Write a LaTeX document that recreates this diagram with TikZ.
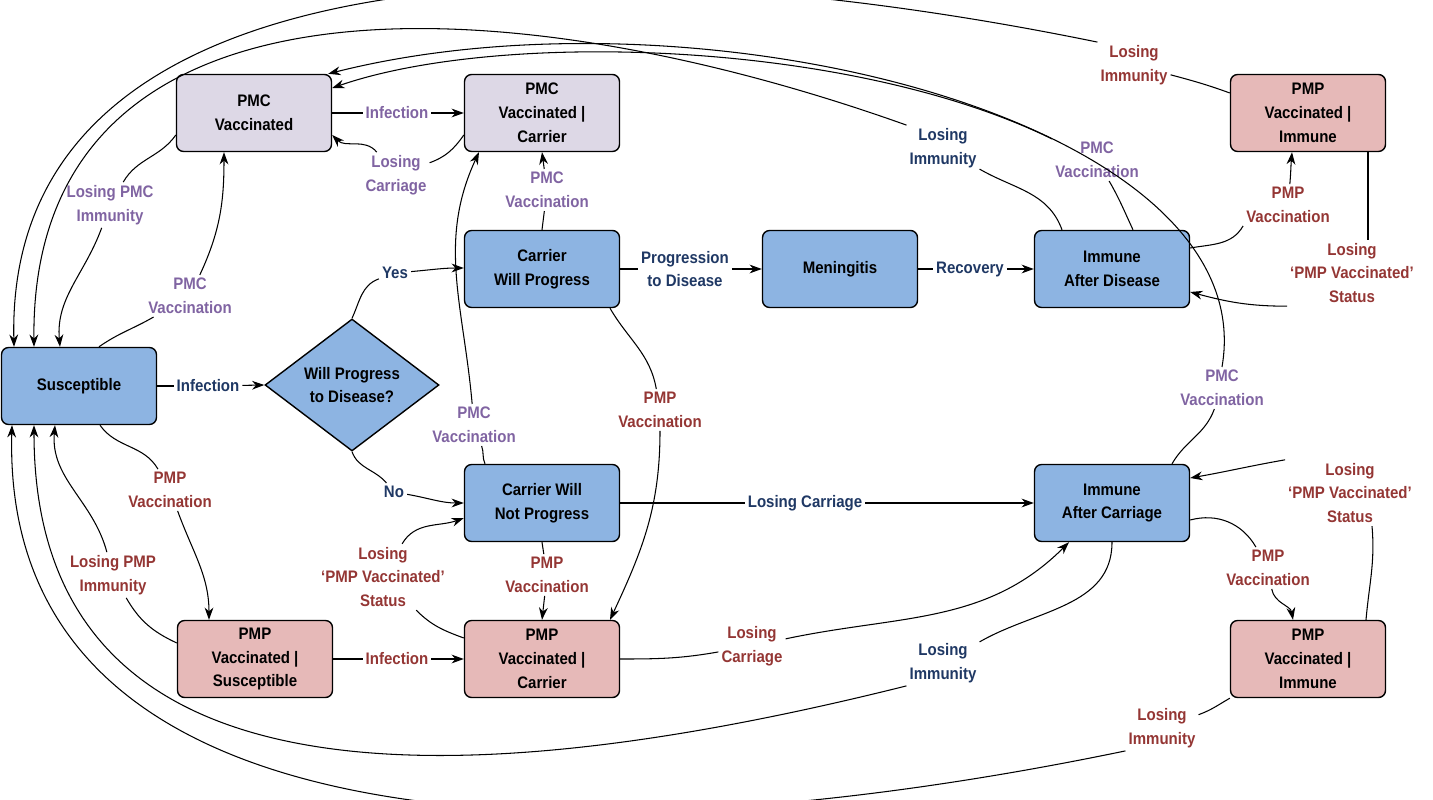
\documentclass[tikz,border=0pt]{standalone}
\usepackage{fontspec}
\setmainfont{Liberation Sans}[FakeStretch=0.9]
\usetikzlibrary{shapes.geometric,arrows.meta}
\newlength\pxl \setlength\pxl{0.02cm}
\definecolor{bfill}{HTML}{8DB4E2}
\definecolor{pfill}{HTML}{DDD8E6}
\definecolor{rfill}{HTML}{E6B9B8}
\definecolor{tblue}{HTML}{1F3864}
\definecolor{tpurp}{HTML}{8064A2}
\definecolor{tred}{HTML}{943634}
\begin{document}
\begin{tikzpicture}[x=0.02cm,y=-0.02cm,
  font=\fontsize{9.5}{13.6}\selectfont\bfseries,
  box/.style={draw=black,line width=0.8pt,rounded corners=4pt,minimum width=3.1cm,minimum height=1.54cm,align=center,inner sep=1pt},
  bb/.style={box,fill=bfill},
  pb/.style={box,fill=pfill},
  rb/.style={box,fill=rfill},
  lb/.style={align=center,inner sep=1.5pt,text=tblue},
  lp/.style={lb,text=tpurp},
  lr/.style={lb,text=tred},
  every path/.style={line width=0.6pt},
  ar/.style={-{Stealth[length=7pt,width=5pt]}}]
\useasboundingbox (0,0) rectangle (1433,800);
% nodes
\node[bb] (sus) at (79,386) {Susceptible};
\node[pb] (pmcv) at (254,113) {PMC\\Vaccinated};
\node[pb] (pmcc) at (542,113) {PMC\\Vaccinated |\\Carrier};
\node[bb] (cwp) at (542,269) {Carrier\\Will Progress};
\node[bb] (men) at (840,269) {Meningitis};
\node[bb] (iad) at (1112,269) {Immune\\After Disease};
\node[rb] (pmpi1) at (1308,113) {PMP\\Vaccinated |\\Immune};
\node[diamond,draw=black,line width=0.8pt,fill=bfill,minimum width=3.48cm,minimum height=2.48cm,inner sep=0pt,align=center] (dia) at (352,385) {Will Progress\\to Disease?};
\node[bb] (cwnp) at (542,503) {Carrier Will\\Not Progress};
\node[bb] (iac) at (1112,503) {Immune\\After Carriage};
\node[rb] (pmps) at (255,659) {PMP\\Vaccinated |\\Susceptible};
\node[rb] (pmpc) at (542,659) {PMP\\Vaccinated |\\Carrier};
\node[rb] (pmpi2) at (1308,659) {PMP\\Vaccinated |\\Immune};
% labels
\node[lp] (l1) at (190,296) {PMC\\Vaccination};
\node[lp] (l2) at (110,205) {Losing PMC\\Immunity};
\node[lp] (l3) at (397,113) {Infection};
\node[lp] (l4) at (396,175) {Losing\\Carriage};
\node[lp] (l5) at (547,190) {PMC\\Vaccination};
\node[lb] (l6) at (208,386) {Infection};
\node[lb] (l7) at (395,273) {Yes};
\node[lb] (l8) at (394,492) {No};
\node[lb] (l9) at (685,269) {Progression\\to Disease};
\node[lb] (l10) at (970,269) {Recovery};
\node[lp] (l11) at (474,425) {PMC\\Vaccination};
\node[lr] (l12) at (660,410) {PMP\\Vaccination};
\node[lr] (l13) at (547,575) {PMP\\Vaccination};
\node[lr] (l14) at (383,577) {Losing\\`PMP Vaccinated'\\Status};
\node[lb] (l15) at (805,503) {Losing Carriage};
\node[lr] (l16) at (397,659) {Infection};
\node[lr] (l17) at (170,490) {PMP\\Vaccination};
\node[lr] (l18) at (113,575) {Losing PMP\\Immunity};
\node[lr] (l19) at (752,646) {Losing\\Carriage};
\node[lb] (l20) at (943,663) {Losing\\Immunity};
\node[lr] (l21) at (1162,728) {Losing\\Immunity};
\node[lr] (l22) at (1134,65) {Losing\\Immunity};
\node[lb] (l23) at (943,148) {Losing\\Immunity};
\node[lp] (l24) at (1097,160) {PMC\\Vaccination};
\node[lp] (l25) at (1222,388) {PMC\\Vaccination};
\node[lr] (l26) at (1352,273) {Losing\\`PMP Vaccinated'\\Status};
\node[lr] (l27) at (1288,205) {PMP\\Vaccination};
\node[lr] (l28) at (1268,568) {PMP\\Vaccination};
\node[lr] (l29) at (1350,493) {Losing\\`PMP Vaccinated'\\Status};
% edges
\draw ([xshift=20\pxl]sus.north) to[out=35,in=210] (l1);
\draw[ar] (l1) to[out=65,in=-90] ([xshift=-30\pxl]pmcv.south);
\draw ([yshift=-22\pxl]pmcv.west) to[out=235,in=60] (l2);
\draw[ar] (l2) to[out=-110,in=95] ([xshift=-19\pxl]sus.north);
\draw (pmcv.east) -- (l3);
\draw[ar] (l3) -- (pmcc.west);
\draw ([yshift=-22\pxl]pmcc.west) to[out=235,in=20] (l4);
\draw[ar] (l4) to[out=130,in=-45] ([yshift=-22\pxl]pmcv.east);
\draw (cwp.north) -- (l5);
\draw[ar] (l5) -- (pmcc.south);
\draw (sus.east) -- (l6);
\draw[ar] (l6) -- (dia.west);
\draw (dia.north) to[out=65,in=200] (l7);
\draw[ar] (l7) to[out=5,in=180] ([yshift=1\pxl]cwp.west);
\draw (dia.south) to[out=-70,in=130] (l8);
\draw[ar] (l8) to[out=-10,in=180] (cwnp.west);
\draw (cwp.east) -- (l9);
\draw[ar] (l9) -- (men.west);
\draw (men.east) -- (l10);
\draw[ar] (l10) -- (iad.west);
\draw ([xshift=-57\pxl]cwnp.north) to[out=115,in=-70] (l11);
\draw[ar] (l11) to[out=95,in=-115] ([xshift=-63\pxl]pmcc.south);
\draw ([xshift=68\pxl]cwp.south) to[out=-60,in=100] (l12);
\draw[ar] (l12) to[out=-90,in=65] ([xshift=68\pxl]pmpc.north);
\draw (cwnp.south) -- (l13);
\draw[ar] (l13) -- (pmpc.north);
\draw ([yshift=21\pxl]pmpc.west) to[out=160,in=-45] (l14);
\draw[ar] (l14) to[out=60,in=200] ([yshift=-15\pxl]cwnp.west);
\draw (cwnp.east) -- (l15);
\draw[ar] (l15) -- (iac.west);
\draw (pmps.east) -- (l16);
\draw[ar] (l16) -- (pmpc.west);
\draw ([xshift=21\pxl]sus.south) to[out=-55,in=120] (l17);
\draw[ar] (l17) to[out=-70,in=90] ([xshift=-46\pxl]pmps.north);
\draw ([yshift=16\pxl]pmps.west) to[out=155,in=-60] (l18);
\draw[ar] (l18) to[out=105,in=-95] ([xshift=-24\pxl]sus.south);
\draw (pmpc.east) to[out=0,in=190] (l19);
\draw[ar] (l19) to[out=12,in=-135] ([xshift=-43\pxl]iac.south);
\draw (iac.south) to[out=-90,in=30] (l20);
\draw[ar] (l20.south west) .. controls (450,800) and (34,810) .. ([xshift=-45\pxl]sus.south);
\draw (pmpi2.south west) to[out=210,in=20] (l21);
\draw[ar] (l21.south west) .. controls (600,860) and (0,860) .. ([xshift=-67\pxl]sus.south);
\draw ([yshift=20\pxl]pmpi1.west) to[out=160,in=-15] (l22);
\draw[ar] (l22.north west) .. controls (600,-60) and (5,-60) .. ([xshift=-65\pxl]sus.north);
\draw ([xshift=-50\pxl]iad.north) to[out=110,in=-30] (l23);
\draw[ar] (l23.north west) .. controls (500,-20) and (30,-40) .. ([xshift=-45\pxl]sus.north);
\draw ([xshift=21\pxl]iad.north) to[out=115,in=-60] (l24);
\draw[ar] (l24.north west) .. controls (850,40) and (500,30) .. ([yshift=25\pxl]pmcv.east);
\draw ([xshift=60\pxl]iac.north) to[out=60,in=-110] (l25);
\draw[ar] (l25.north) .. controls (1265,120) and (700,-20) .. ([xshift=-4\pxl]pmcv.north east);
\draw ([xshift=60\pxl]pmpi1.south) to[out=-90,in=90] ([xshift=16\pxl]l26.north);
\draw[ar] (l26.south west) to[out=180,in=-15] ([yshift=-23\pxl]iad.east);
\draw ([yshift=21\pxl]iad.east) to[out=10,in=-120] (l27.south west);
\draw[ar] (l27) to[out=85,in=-95] ([xshift=-16\pxl]pmpi1.south);
\draw ([yshift=-17\pxl]iac.east) to[out=15,in=120] (l28);
\draw[ar] (l28) to[out=-80,in=100] ([xshift=-15\pxl]pmpi2.north);
\draw ([xshift=58\pxl]pmpi2.north) to[out=85,in=-85] ([xshift=22\pxl]l29.south);
\draw[ar] (l29.north west) to[out=190,in=10] ([yshift=25\pxl]iac.east);
\end{tikzpicture}
\end{document}
